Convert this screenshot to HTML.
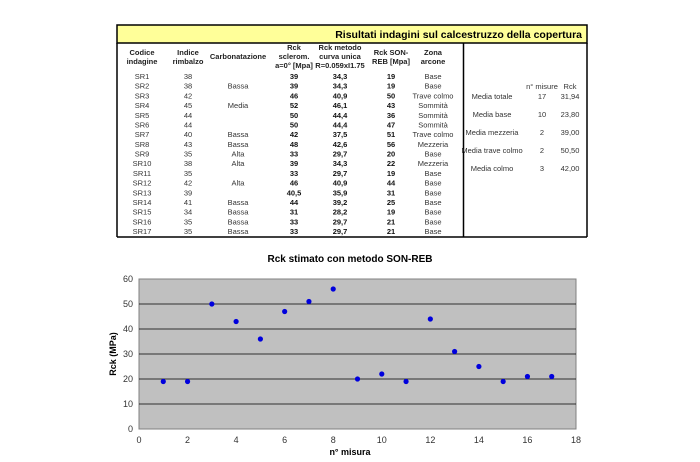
<!DOCTYPE html>
<html><head><meta charset="utf-8"><style>
body{margin:0;background:#fff}
svg{display:block;font-family:"Liberation Sans",Arial,sans-serif}
</style></head><body>
<svg width="700" height="462" viewBox="0 0 700 462" xmlns="http://www.w3.org/2000/svg">
<rect x="117" y="25" width="470" height="18" fill="#ffff99" stroke="#000" stroke-width="1.5"/>
<text x="582" y="38" text-anchor="end" font-size="10.5" font-weight="bold">Risultati indagini sul calcestruzzo della copertura</text>
<line x1="117" y1="43" x2="117" y2="237" stroke="#000" stroke-width="1.5"/>
<line x1="463.5" y1="43" x2="463.5" y2="237" stroke="#000" stroke-width="1.5"/>
<line x1="587" y1="43" x2="587" y2="237" stroke="#000" stroke-width="1.5"/>
<line x1="117" y1="237" x2="587" y2="237" stroke="#000" stroke-width="1.5"/>
<g font-size="7.5" font-weight="bold" fill="#222" text-anchor="middle">
<text x="142" y="55">Codice</text><text x="142" y="64">indagine</text>
<text x="188" y="55">Indice</text><text x="188" y="64">rimbalzo</text>
<text x="238" y="59">Carbonatazione</text>
<text x="294" y="50">Rck</text><text x="294" y="59">sclerom.</text><text x="294" y="68">a=0° [Mpa]</text>
<text x="340" y="50">Rck metodo</text><text x="340" y="59">curva unica</text><text x="340" y="68">R=0.059xI1.75</text>
<text x="391" y="55">Rck SON-</text><text x="391" y="64">REB [Mpa]</text>
<text x="433" y="55">Zona</text><text x="433" y="64">arcone</text>
</g>
<g font-size="7.5" fill="#333" text-anchor="middle">
<g id="rows"></g>
</g>
<g font-size="7.5" fill="#333" text-anchor="middle">
<text x="542" y="89">n° misure</text><text x="570" y="89">Rck</text>
<text x="492" y="99">Media totale</text><text x="542" y="99">17</text><text x="570" y="99">31,94</text>
<text x="492" y="117">Media base</text><text x="542" y="117">10</text><text x="570" y="117">23,80</text>
<text x="492" y="135">Media mezzeria</text><text x="542" y="135">2</text><text x="570" y="135">39,00</text>
<text x="492" y="153">Media trave colmo</text><text x="542" y="153">2</text><text x="570" y="153">50,50</text>
<text x="492" y="171">Media colmo</text><text x="542" y="171">3</text><text x="570" y="171">42,00</text>
</g>
<text x="350" y="262" text-anchor="middle" font-size="10" font-weight="bold">Rck stimato con metodo SON-REB</text>
<rect x="139" y="279" width="437" height="150" fill="#c0c0c0" stroke="#808080"/>
<g stroke="#000" stroke-width="0.8">
<line x1="139" y1="304" x2="576" y2="304"/><line x1="139" y1="329" x2="576" y2="329"/>
<line x1="139" y1="354" x2="576" y2="354"/><line x1="139" y1="379" x2="576" y2="379"/>
<line x1="139" y1="404" x2="576" y2="404"/>
</g>
<g font-size="9" fill="#333" text-anchor="end">
<text x="133" y="282">60</text><text x="133" y="307">50</text><text x="133" y="332">40</text>
<text x="133" y="357">30</text><text x="133" y="382">20</text><text x="133" y="407">10</text><text x="133" y="432">0</text>
</g>
<g font-size="9" fill="#333" text-anchor="middle" id="xt"></g>
<text x="350" y="455" text-anchor="middle" font-size="9" font-weight="bold">n° misura</text>
<text transform="translate(116,354) rotate(-90)" text-anchor="middle" font-size="9" font-weight="bold">Rck (MPa)</text>
<g fill="#0000dd" id="pts"></g>
</svg>
<script>
var ns="http://www.w3.org/2000/svg";
var d=[["SR1","38","","39","34,3","19","Base"],["SR2","38","Bassa","39","34,3","19","Base"],["SR3","42","","46","40,9","50","Trave colmo"],["SR4","45","Media","52","46,1","43","Sommità"],["SR5","44","","50","44,4","36","Sommità"],["SR6","44","","50","44,4","47","Sommità"],["SR7","40","Bassa","42","37,5","51","Trave colmo"],["SR8","43","Bassa","48","42,6","56","Mezzeria"],["SR9","35","Alta","33","29,7","20","Base"],["SR10","38","Alta","39","34,3","22","Mezzeria"],["SR11","35","","33","29,7","19","Base"],["SR12","42","Alta","46","40,9","44","Base"],["SR13","39","","40,5","35,9","31","Base"],["SR14","41","Bassa","44","39,2","25","Base"],["SR15","34","Bassa","31","28,2","19","Base"],["SR16","35","Bassa","33","29,7","21","Base"],["SR17","35","Bassa","33","29,7","21","Base"]];
var cx=[142,188,238,294,340,391,433],g=document.getElementById("rows");
d.forEach(function(r,i){r.forEach(function(v,j){var t=document.createElementNS(ns,"text");t.setAttribute("x",cx[j]);t.setAttribute("y",79+i*9.69);if(j>=3&&j<=5){t.setAttribute("font-weight","bold");t.setAttribute("fill","#111");}t.textContent=v;g.appendChild(t);});
var c=document.createElementNS(ns,"circle");c.setAttribute("cx",139+(i+1)*437/18);c.setAttribute("cy",429-parseFloat(r[5])*2.5);c.setAttribute("r",2.6);document.getElementById("pts").appendChild(c);});
for(var k=0;k<=18;k+=2){var t=document.createElementNS(ns,"text");t.setAttribute("x",139+k*437/18);t.setAttribute("y",443);t.textContent=k;document.getElementById("xt").appendChild(t);}
</script>
</body></html>
